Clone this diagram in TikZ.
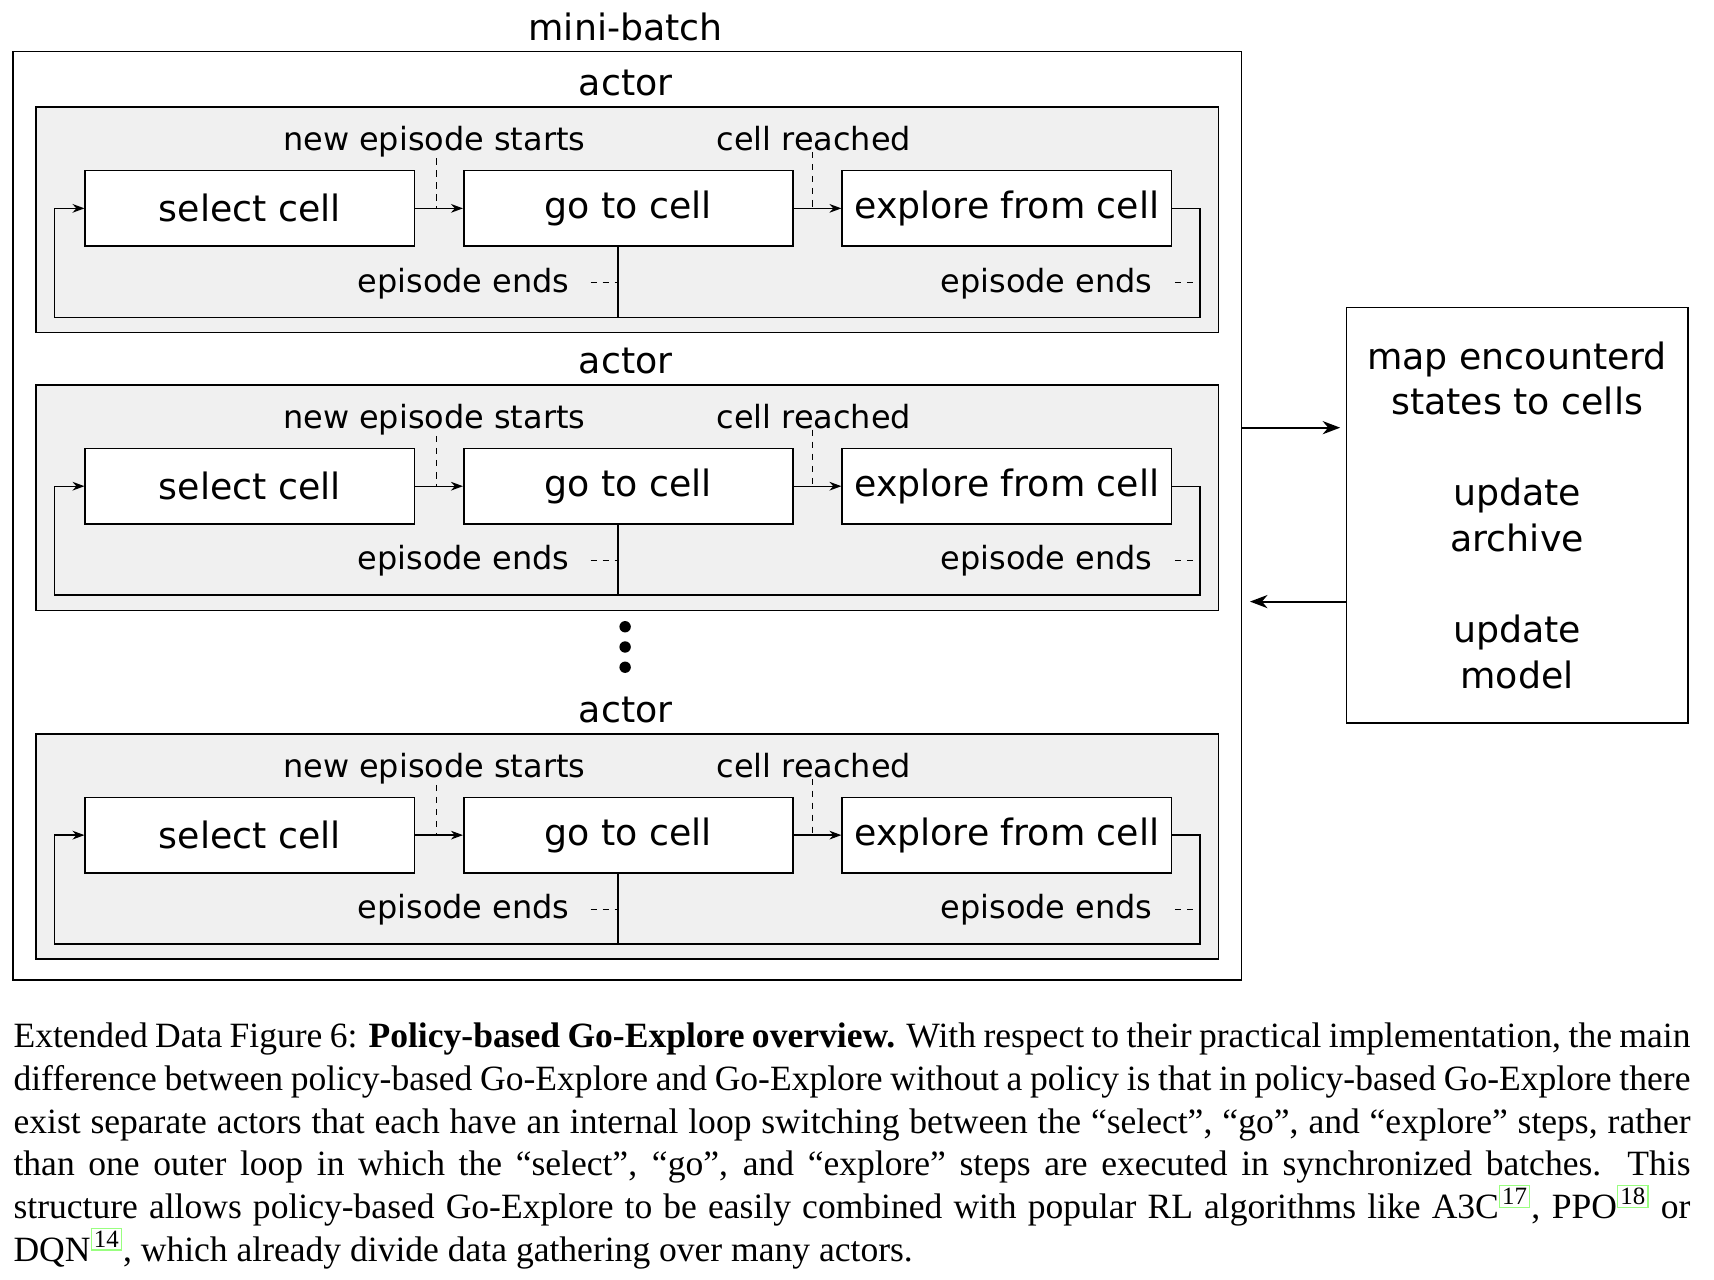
\documentclass[tikz,border=0pt]{standalone}
\usepackage{fontspec}
\setmainfont{Liberation Serif}
\newfontfamily\dv{DejaVu Sans}
\usetikzlibrary{arrows.meta,calc}
\definecolor{actorgray}{HTML}{F0F0F0}
\definecolor{linkgreen}{rgb}{0.6,1,0.5}
\newcommand\refnum[1]{\textsuperscript{{\setlength{\fboxsep}{0.9pt}\setlength{\fboxrule}{0.6pt}\fcolorbox{linkgreen}{white}{#1}}}}
\begin{document}
\begin{tikzpicture}[x=0.5pt,y=-0.5pt,
  stepbox/.style={draw,fill=white,line width=0.75pt,minimum width=150.5pt,minimum height=34.5pt,inner sep=0pt,font=\dv\fontsize{16.6}{19}\selectfont},
  lab/.style={inner sep=0pt,font=\dv\fontsize{14.6}{17}\selectfont},
  title/.style={inner sep=0pt,font=\dv\fontsize{16.6}{19}\selectfont},
  conn/.style={line width=0.6pt,-{Stealth[length=5.5pt,width=4pt]}},
  plain/.style={line width=0.6pt},
  dsh/.style={line width=0.6pt,dash pattern=on 3pt off 2.5pt},
  big/.style={line width=1pt,-{Stealth[length=8pt,width=6pt,inset=2.5pt]}}
]
\useasboundingbox (0,0) rectangle (1567,1170);
\node[title] (mb) at (572,25) {mini-batch};
\node[draw,line width=0.75pt,minimum width=561.5pt,minimum height=424.5pt,inner sep=0pt] (outer) at (573.5,471.5) {};
\foreach \o/\i in {0/a,254/b,573/c}{
  \node[title] (act\i) at (572,76+\o) {actor};
  \node[draw,fill=actorgray,line width=0.75pt,minimum width=540.5pt,minimum height=103pt,inner sep=0pt] (box\i) at (573.5,201+\o) {};
  \node[stepbox] (sel\i) at (228.5,190.5+\o) {select cell};
  \node[stepbox] (go\i) at (574.5,190.5+\o) {go to cell};
  \node[stepbox] (ex\i) at (920.5,190.5+\o) {explore from cell};
  \node[lab,anchor=base] (ns\i) at (397,138+\o) {new episode starts};
  \node[lab,anchor=base] (cr\i) at (744,138+\o) {cell reached};
  \node[lab,anchor=base east] (ea\i) at (521,267+\o) {episode ends};
  \node[lab,anchor=base east] (eb\i) at (1054,267+\o) {episode ends};
  \coordinate (da\i) at (399,190.5+\o);
  \coordinate (db\i) at (743,190.5+\o);
  \coordinate (lx\i) at (565,258.5+\o);
  \coordinate (rx\i) at (1097,258.5+\o);
  \coordinate (bl\i) at (50,290+\o);
  \coordinate (br\i) at (1097,290+\o);
  \draw[conn] (sel\i.east) -- (go\i.west);
  \draw[conn] (go\i.east) -- (ex\i.west);
  \draw[dsh] (ns\i.south -| da\i) -- (da\i);
  \draw[dsh] (cr\i.south -| db\i) -- (db\i);
  \draw[conn] (ex\i.east) -| (br\i) -- (bl\i) |- (sel\i.west);
  \draw[plain] (go\i.south -| lx\i) -- (br\i -| lx\i);
  \draw[dsh] ([xshift=9.5pt]ea\i.east |- lx\i) -- (lx\i);
  \draw[dsh] ([xshift=10pt]eb\i.east |- rx\i) -- (rx\i);
}
\foreach \y/\n in {573/1,591.5/2,610/3}{
  \fill (571.5,\y) circle[radius=2.6pt] coordinate (dot\n);
}
\node[draw,line width=0.75pt,minimum width=156pt,minimum height=190pt,inner sep=0pt,align=center,
  font=\dv\fontsize{16.6}{20.85}\selectfont] (rb) at (1387,471)
  {map encounterd\\states to cells\\[20.85pt]update\\archive\\[20.85pt]update\\model};
\coordinate (ya) at (0,391);
\coordinate (yb) at (0,550);
\draw[big,shorten >=2.5pt] (outer.east |- ya) -- (rb.west |- ya);
\draw[big,shorten >=3.5pt] (rb.west |- yb) -- (outer.east |- yb);
\node[anchor=north west,inner sep=0pt,text width=766.5pt,align=justify,
  font=\fontsize{16.25}{19.5}\selectfont] (cap) at (12,935)
  {Extended Data Figure 6: \textbf{Policy-based Go-Explore overview.} With respect to their practical implementation, the main\linebreak
  difference between policy-based Go-Explore and Go-Explore without a policy is that in policy-based Go-Explore there\linebreak
  exist separate actors that each have an internal loop switching between the ``select'', ``go'', and ``explore'' steps, rather\linebreak
  than one outer loop in which the ``select'', ``go'', and ``explore'' steps are executed in synchronized batches.  This\linebreak
  structure allows policy-based Go-Explore to be easily combined with popular RL algorithms like A3C\refnum{17}, PPO\refnum{18} or\linebreak
  DQN\refnum{14}, which already divide data gathering over many actors.};
\end{tikzpicture}
\end{document}
